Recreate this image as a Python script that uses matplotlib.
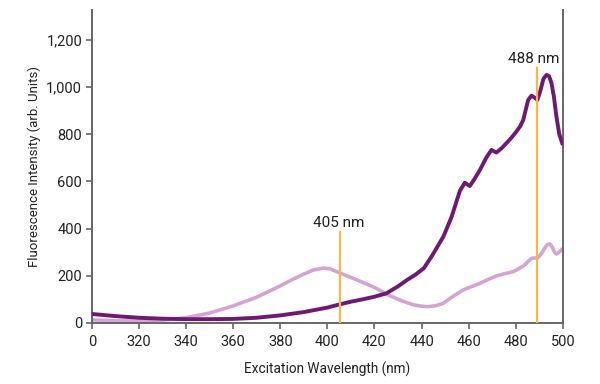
import numpy as np
import matplotlib
matplotlib.use("Agg")
import matplotlib.pyplot as plt

plt.rcParams["font.family"] = ["Roboto", "DejaVu Sans"]

# dark excitation spectrum (nm, intensity)
dark_nm = [300, 310, 320, 330, 340, 350, 360, 370, 380, 390, 400, 405, 410,
           415, 420, 425, 430, 434, 437.5, 441, 444.5, 449.3, 452.8, 456.3,
           458.4, 460.5, 462.5, 464.8, 467.5, 469.7, 471.8, 474, 476.1, 478.2,
           480.3, 482, 483.2, 484.3, 485.3, 486.7, 488, 489.2, 490.5, 491.8,
           493.1, 494.2, 495.2, 496.2, 497.3, 498.5, 500]
dark_val = [38, 29, 22, 18, 16, 16, 17, 22, 32, 46, 65, 78, 90, 100, 111, 125,
            155, 183, 205, 232, 285, 366, 450, 560, 594, 580, 610, 648, 700,
            733, 722, 740, 762, 785, 811, 835, 860, 905, 945, 963, 955, 945,
            985, 1035, 1051, 1045, 1016, 960, 874, 800, 754]

# light excitation spectrum (nm, intensity)
light_nm = [300, 310, 320, 330, 340, 350, 360, 370, 380, 385, 390, 394, 398,
            401, 405, 410, 415, 420, 426, 430.8, 436.4, 440, 442.8, 446, 449.2,
            453, 457.7, 461, 464.8, 468, 471.8, 475, 478.9, 481, 483.2, 485,
            486.7, 488, 489.5, 491, 492.5, 493.6, 494.5, 495.5, 496.5, 497.3,
            498.5, 500]
light_val = [13, 9, 8, 12, 22, 42, 72, 109, 157, 183, 207, 224, 232, 230, 213,
             193, 172, 151, 118, 97, 77, 71, 69, 73, 83, 110, 140, 153, 168,
             183, 199, 208, 217, 228, 241, 258, 274, 275, 277, 295, 320, 333,
             335, 322, 300, 292, 300, 316]

lines_nm = [405.5, 489.2]
lines_top = [387, 1082]
labels = ["405 nm", "488 nm"]
label_x = [405, 487.6]
label_y = [392, 1090]

xticks = [300, 320, 340, 360, 380, 400, 420, 440, 460, 480, 500]
xticklabels = ["0"] + [str(t) for t in xticks[1:]]
yticks = [0, 200, 400, 600, 800, 1000, 1200]

fig = plt.figure(figsize=(6, 3.84), dpi=100)
ax = fig.add_axes([0.153, 0.159, 0.785, 0.815])

ax.plot(light_nm, light_val, color="#d4a5d2", lw=2.6, solid_capstyle="butt",
        solid_joinstyle="round", zorder=2)
ax.plot(dark_nm, dark_val, color="#6d1a72", lw=2.8, solid_capstyle="butt",
        solid_joinstyle="round", zorder=3)

for xv, top, lab, lx, ly in zip(lines_nm, lines_top, labels, label_x, label_y):
    ax.plot([xv, xv], [0, top], color="#f8b64c", lw=1.6, zorder=4)
    ax.text(lx, ly, lab, ha="center", va="bottom", fontsize=11, color="#222222")

ax.set_xlim(300, 500)
ax.set_ylim(0, 1326)
ax.set_xticks(xticks)
ax.set_xticklabels(xticklabels)
ax.set_yticks(yticks)
ax.set_yticklabels([f"{t:,}" for t in yticks])

for side in ["left", "right", "bottom"]:
    ax.spines[side].set_color("#666666")
    ax.spines[side].set_linewidth(1.4)
ax.spines["top"].set_visible(False)
ax.tick_params(axis="both", colors="#666666", labelcolor="#222222",
               labelsize=10.5, length=4, width=1.2, direction="out")
ax.tick_params(axis="x", pad=5)
ax.tick_params(axis="y", pad=3)

ax.set_xlabel("Excitation Wavelength (nm)", fontsize=9.8, color="#222222",
              labelpad=9)
ax.set_ylabel("Fluorescence Intensity (arb. Units)", fontsize=9.5,
              color="#222222", labelpad=4)

fig.savefig("out.png", dpi=100)
